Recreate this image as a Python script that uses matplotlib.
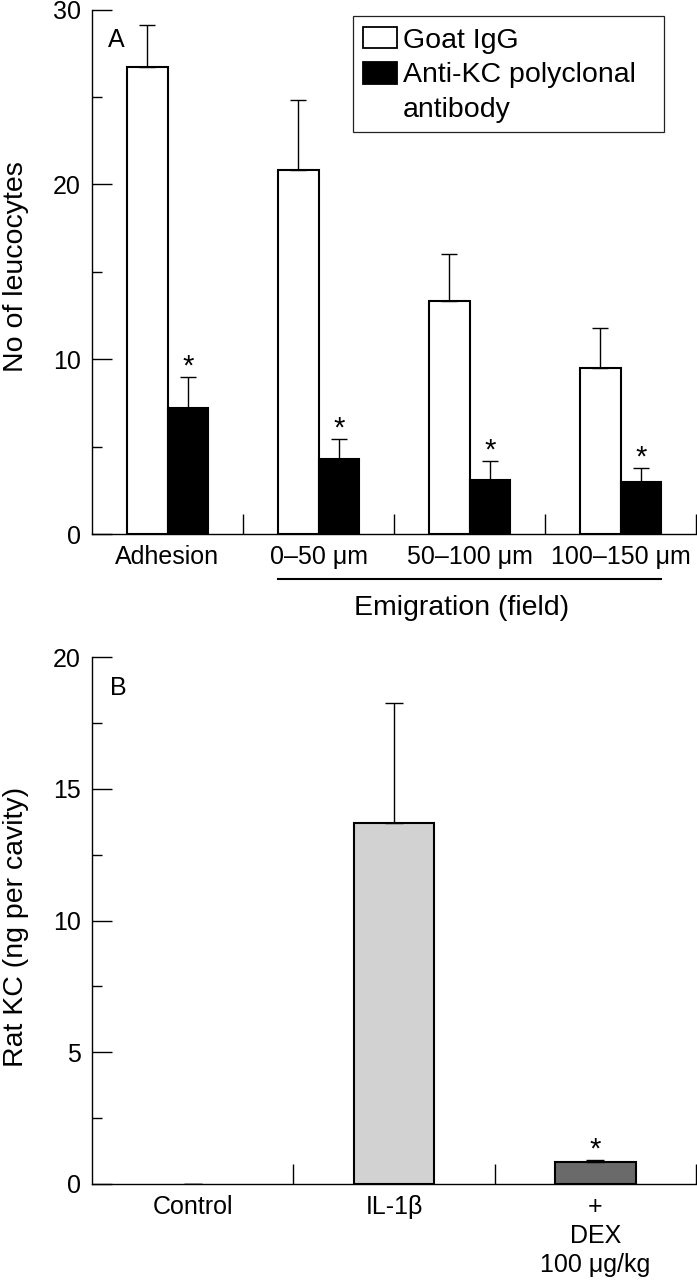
import matplotlib
matplotlib.use("Agg")
import matplotlib.pyplot as plt
from matplotlib.patches import Rectangle

plt.rcParams['font.family'] = ['Liberation Sans', 'DejaVu Sans']

# ---------------- data ----------------
a_categories = ["Adhesion", "0\u201350 \u03bcm", "50\u2013100 \u03bcm", "100\u2013150 \u03bcm"]
a_goat_igg = [26.7, 20.8, 13.3, 9.5]
a_goat_igg_sem = [2.4, 4.0, 2.7, 2.3]
a_anti_kc = [7.2, 4.3, 3.1, 3.0]
a_anti_kc_sem = [1.8, 1.15, 1.1, 0.8]
a_sig = [True, True, True, True]

b_categories = ["Control", "IL-1\u03b2", "+\nDEX\n100 \u03bcg/kg"]
b_values = [0.0, 13.7, 0.84]
b_sem = [0.0, 4.55, 0.07]
b_sig = [False, False, True]
b_colors = ["#ffffff", "#d2d2d2", "#6a6a6a"]

legend_labels = ["Goat IgG", "Anti-KC polyclonal\nantibody"]

# ---------------- figure ----------------
W, H = 697, 1280
fig = plt.figure(figsize=(W / 100, H / 100), dpi=100)

def fx(x):
    return x / W

def fy(y):
    return 1 - y / H

TICK_FS = 18
LAB_FS = 20.5
STAR_FS = 21

def style_axis(ax):
    for s in ("top", "right"):
        ax.spines[s].set_visible(False)
    for s in ("left", "bottom"):
        ax.spines[s].set_linewidth(1.0)
    ax.tick_params(axis="y", which="major", direction="in", length=14.4, width=1.0,
                   labelsize=TICK_FS, pad=8)
    ax.tick_params(axis="y", which="minor", direction="in", length=7.2, width=1.0)
    ax.tick_params(axis="x", which="major", direction="in", length=14.4, width=1.0,
                   labelbottom=False)
    ax.tick_params(axis="x", which="minor", length=0, labelsize=TICK_FS, pad=8)

# ---------------- Panel A ----------------
axA = fig.add_axes([fx(92), fy(534), fx(696) - fx(92), fy(9.5) - fy(534)])
style_axis(axA)
n = len(a_categories)
centers = [i + 0.5 for i in range(n)]
w = 0.27
xw = [c - w / 2 for c in centers]
xb = [c + w / 2 for c in centers]
axA.bar(xw, a_goat_igg, width=w, color="white", edgecolor="black", linewidth=1.5, zorder=2)
axA.bar(xb, a_anti_kc, width=w, color="black", edgecolor="black", linewidth=1.5, zorder=2)
axA.errorbar(xw, a_goat_igg, yerr=[[0] * n, a_goat_igg_sem], fmt="none", ecolor="black",
             elinewidth=1.0, capsize=5.8, capthick=1.0, zorder=3)
axA.errorbar(xb, a_anti_kc, yerr=[[0] * n, a_anti_kc_sem], fmt="none", ecolor="black",
             elinewidth=1.0, capsize=5.8, capthick=1.0, zorder=3)
for x, v, e, s in zip(xb, a_anti_kc, a_anti_kc_sem, a_sig):
    if s:
        axA.annotate("*", xy=(x, v + e), xytext=(0, 1.5), textcoords="offset points",
                     ha="center", va="baseline", fontsize=STAR_FS)
axA.set_xlim(0, n)
axA.set_ylim(0, 30)
axA.set_yticks([0, 10, 20, 30])
axA.set_yticks([5, 15, 25], minor=True)
axA.set_xticks(list(range(1, n + 1)))
axA.set_xticks(centers, minor=True)
axA.set_xticklabels(a_categories, minor=True)
axA.set_ylabel("No of leucocytes", fontsize=LAB_FS)
axA.yaxis.set_label_coords(-0.105, 0.51)
axA.text(0.0265, 0.9285, "A", transform=axA.transAxes, fontsize=TICK_FS,
         ha="left", va="baseline")
# emigration bracket line and label
tr = axA.get_xaxis_transform()
axA.plot([xw[1] - w / 2, xb[-1] + w / 2], [-0.0858, -0.0858], transform=tr,
         color="black", linewidth=1.5, clip_on=False)
axA.text(2.45, -0.1544, "Emigration (field)", transform=tr, fontsize=LAB_FS,
         ha="center", va="baseline")

# legend (drawn manually to match layout)
fig.patches.append(Rectangle((fx(353), fy(132)), fx(664) - fx(353), fy(15.7) - fy(132),
                             transform=fig.transFigure, facecolor="white",
                             edgecolor="#222222", linewidth=0.9, zorder=5))
fig.patches.append(Rectangle((fx(363), fy(48)), fx(397) - fx(363), fy(27) - fy(48),
                             transform=fig.transFigure, facecolor="white",
                             edgecolor="black", linewidth=1.3, zorder=6))
fig.patches.append(Rectangle((fx(363), fy(84)), fx(397) - fx(363), fy(62) - fy(84),
                             transform=fig.transFigure, facecolor="black",
                             edgecolor="black", linewidth=1.3, zorder=6))
fig.text(fx(403), fy(48), legend_labels[0], fontsize=LAB_FS, ha="left", va="baseline", zorder=7)
for i, line in enumerate(legend_labels[1].split("\n")):
    fig.text(fx(403), fy(82 + 35 * i), line, fontsize=LAB_FS, ha="left", va="baseline", zorder=7)

# ---------------- Panel B ----------------
axB = fig.add_axes([fx(92), fy(1183.7), fx(696) - fx(92), fy(657.3) - fy(1183.7)])
style_axis(axB)
m = len(b_categories)
bc = [i + 0.5 for i in range(m)]
b_lw = [1.5 if v > 0 else 0 for v in b_values]
axB.bar(bc, b_values, width=0.4, color=b_colors, edgecolor="black", linewidth=b_lw, zorder=2)
axB.errorbar(bc, b_values, yerr=[[0] * m, b_sem], fmt="none", ecolor="black",
             elinewidth=1.0, capsize=6.3, capthick=1.0, zorder=3)
for x, v, e, s in zip(bc, b_values, b_sem, b_sig):
    if s:
        axB.annotate("*", xy=(x, v + e), xytext=(0, 1.5), textcoords="offset points",
                     ha="center", va="baseline", fontsize=STAR_FS)
axB.set_xlim(0, m)
axB.set_ylim(0, 20)
axB.set_yticks([0, 5, 10, 15, 20])
axB.set_yticks([2.5, 7.5, 12.5, 17.5], minor=True)
axB.set_xticks(list(range(1, m + 1)))
axB.set_xticks(bc, minor=True)
axB.set_xticklabels(b_categories, minor=True, linespacing=1.27)
axB.tick_params(axis="x", which="minor", pad=8)
axB.set_ylabel("Rat KC (ng per cavity)", fontsize=LAB_FS)
axB.yaxis.set_label_coords(-0.105, 0.488)
axB.text(0.0298, 0.9284, "B", transform=axB.transAxes, fontsize=TICK_FS,
         ha="left", va="baseline")

fig.savefig("out.png", dpi=100)
